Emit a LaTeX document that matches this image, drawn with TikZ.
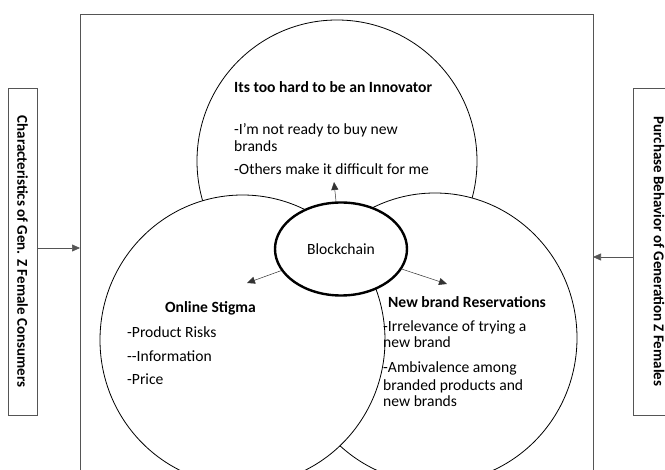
\documentclass[tikz,border=0pt]{standalone}
\usepackage{fontspec}
\setmainfont{Carlito}
\usetikzlibrary{shapes.geometric,arrows.meta}
\definecolor{framegray}{HTML}{555555}
\tikzset{
  circ/.style={ellipse, draw=black, line width=0.8pt, fill=white, inner sep=0pt},
  txt/.style={anchor=base west, inner sep=0pt, font=\fontsize{15.6}{18}\selectfont},
  ttl/.style={txt, font=\fontsize{15.6}{18}\selectfont\bfseries},
  sidebox/.style={draw=framegray, line width=0.7pt, rotate=-90, inner sep=0pt,
    font=\fontsize{15}{18}\selectfont\bfseries},
  arr/.style={-{Triangle[length=8pt,width=7pt]}, line width=0.5pt, draw=black!80},
  sidearr/.style={-{Triangle[length=8pt,width=7pt]}, line width=0.6pt, draw=framegray}
}
\begin{document}
\begin{tikzpicture}[x=1pt,y=-1pt]
\useasboundingbox (0,0) rectangle (665,470);
\fill[white] (0,0) rectangle (665,470);
% main frame
\draw[framegray, line width=0.7pt] (80,480) -- (80,14) -- (593,14) -- (593,480);
% circles
\node[circ, minimum width=280, minimum height=282] (innov) at (337,161) {};
\node[circ, minimum width=284, minimum height=290] (reserv) at (435,338) {};
\node[circ, minimum width=285, minimum height=290] (stigma) at (242.5,340) {};
% blockchain
\node[ellipse, draw=black, line width=2.4pt, fill=white, inner sep=0pt,
  minimum width=132, minimum height=93, font=\fontsize{15.6}{18}\selectfont] (bc) at (341,249) {Blockchain};
% arrows from blockchain
\coordinate (tipU) at (334,182);
\coordinate (tipL) at (247,283);
\coordinate (tipR) at (447,284);
\draw[arr] (bc) -- (tipU);
\draw[arr] (bc) -- (tipL);
\draw[arr] (bc) -- (tipR);
% top circle text
\node[ttl] (t1) at (234,93) {Its too hard to be an Innovator};
\node[txt] (t2) at (234,135) {-I'm not ready to buy new};
\node[txt] (t3) at (234,152) {brands};
\node[txt] (t4) at (234,175) {-Others make it difficult for me};
% left circle text
\node[ttl] (s1) at (165,313) {Online Stigma};
\node[txt] (s2) at (127,338) {-Product Risks};
\node[txt] (s3) at (127,362) {-{}-Information};
\node[txt] (s4) at (127,385) {-Price};
% right circle text
\node[ttl] (r1) at (388,308) {New brand Reservations};
\node[txt] (r2) at (383,332) {-Irrelevance of trying a};
\node[txt] (r3) at (383,348) {new brand};
\node[txt] (r4) at (383,373) {-Ambivalence among};
\node[txt] (r5) at (383,391) {branded products and};
\node[txt] (r6) at (383,407) {new brands};
% side boxes
\node[sidebox, minimum width=327, minimum height=29] (lbox) at (22.5,251.5) {Characteristics of Gen. Z Female Consumers};
\node[sidebox, minimum width=327, minimum height=52] (rbox) at (659,251.5) {Purchase Behavior of Generation Z Females};
\coordinate (fl) at (80,248);
\coordinate (fr) at (593,257);
\draw[sidearr] (lbox.north |- fl) -- (fl);
\draw[sidearr] (rbox.south |- fr) -- (fr);
\end{tikzpicture}
\end{document}
